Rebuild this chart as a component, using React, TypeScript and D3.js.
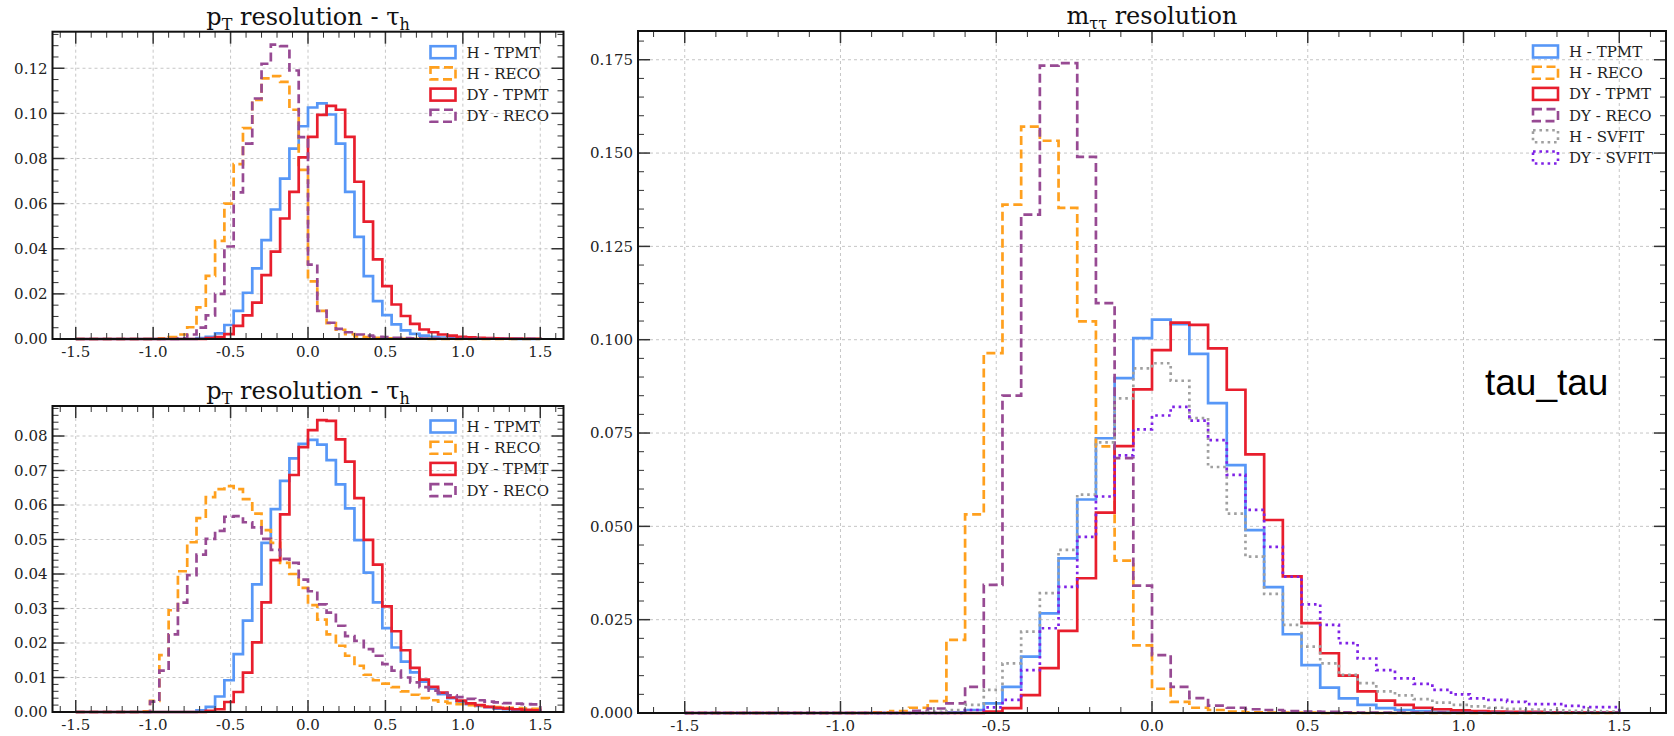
import * as d3 from "d3";

// histogram binning: 50 bins of 0.06 over [-1.5, 1.5]
const BIN_LO = -1.5;
const BIN_W = 0.06;
const binEdges = d3.range(51).map((i) => +(BIN_LO + i * BIN_W).toFixed(2));

const xTicks = [-1.5, -1.0, -0.5, 0.0, 0.5, 1.0, 1.5];
const yTicksTop = [0, 0.02, 0.04, 0.06, 0.08, 0.1, 0.12];
const yTicksBottom = [0, 0.01, 0.02, 0.03, 0.04, 0.05, 0.06, 0.07, 0.08];
const yTicksRight = [0, 0.025, 0.05, 0.075, 0.1, 0.125, 0.15, 0.175];

const seriesNames = ["H - TPMT", "H - RECO", "DY - TPMT", "DY - RECO", "H - SVFIT", "DY - SVFIT"];

// top-left: pT resolution - tau_h
const topHTpmt = [
  0, 0, 0, 0, 0, 0, 0, 0, 0, 0,
  0, 0, 0, 0.0004, 0.001, 0.0025, 0.0062, 0.0125, 0.0205, 0.0313,
  0.0438, 0.0574, 0.0711, 0.0844, 0.0943, 0.1026, 0.1044, 0.0995, 0.0866, 0.0652,
  0.0453, 0.0279, 0.0168, 0.0106, 0.0065, 0.0038, 0.0023, 0.0015, 0.001, 0.0006,
  0.0004, 0.0003, 0.0002, 0.0001, 0.0001, 0.0001, 0.0001, 0, 0, 0,
];
const topHReco = [
  0, 0, 0, 0, 0, 0, 0, 0, 0, 0.0003,
  0.0008, 0.002, 0.0052, 0.014, 0.028, 0.0435, 0.06, 0.0775, 0.0935, 0.106,
  0.1155, 0.1165, 0.114, 0.1016, 0.075, 0.0255, 0.0125, 0.007, 0.0041, 0.0022,
  0.0012, 0.0008, 0.0005, 0.0003, 0.0002, 0.0001, 0.0001, 0.0001, 0, 0,
  0, 0, 0, 0, 0, 0, 0, 0, 0, 0,
];
const topDyTpmt = [
  0, 0, 0, 0, 0, 0, 0, 0, 0, 0,
  0, 0, 0, 0, 0.0004, 0.0008, 0.0022, 0.0058, 0.0105, 0.0161,
  0.0283, 0.0387, 0.0534, 0.0652, 0.0805, 0.0896, 0.0993, 0.1033, 0.1016, 0.0896,
  0.0697, 0.052, 0.0353, 0.0234, 0.0153, 0.0102, 0.0067, 0.0042, 0.003, 0.002,
  0.0015, 0.001, 0.0007, 0.0005, 0.0004, 0.0003, 0.0002, 0.0002, 0.0001, 0.0001,
];
const topDyReco = [
  0, 0, 0, 0, 0, 0, 0, 0, 0, 0,
  0, 0.0003, 0.002, 0.005, 0.0105, 0.02, 0.041, 0.065, 0.0866, 0.1066,
  0.122, 0.1305, 0.1298, 0.119, 0.0895, 0.033, 0.0125, 0.0072, 0.0045, 0.003,
  0.002, 0.0015, 0.001, 0.0008, 0.0005, 0.0004, 0.0003, 0.0002, 0.0002, 0.0001,
  0.0001, 0.0001, 0.0001, 0.0001, 0.0001, 0.0001, 0.0001, 0.0001, 0.0001, 0.0001,
];

// bottom-left: pT resolution - tau_h
const botHTpmt = [
  0, 0, 0, 0, 0, 0, 0, 0, 0, 0,
  0, 0, 0, 0.0005, 0.0015, 0.0045, 0.0092, 0.0168, 0.0265, 0.037,
  0.049, 0.0588, 0.067, 0.0735, 0.0777, 0.0789, 0.0775, 0.073, 0.066, 0.059,
  0.0498, 0.0404, 0.0318, 0.0243, 0.0187, 0.0146, 0.0115, 0.0088, 0.0068, 0.0052,
  0.004, 0.003, 0.0023, 0.0018, 0.0014, 0.001, 0.0008, 0.0006, 0.0005, 0.0004,
];
const botHReco = [
  0, 0, 0, 0, 0, 0, 0, 0.0002, 0.0032, 0.0165,
  0.0295, 0.0408, 0.0492, 0.0562, 0.0623, 0.0646, 0.0655, 0.0646, 0.0617, 0.0575,
  0.0527, 0.049, 0.0432, 0.04, 0.036, 0.031, 0.0268, 0.0225, 0.0192, 0.0163,
  0.0134, 0.0108, 0.0092, 0.0082, 0.0072, 0.006, 0.005, 0.004, 0.0034, 0.003,
  0.0026, 0.0023, 0.002, 0.0018, 0.0016, 0.0014, 0.0012, 0.0011, 0.001, 0.0009,
];
const botDyTpmt = [
  0, 0, 0, 0, 0, 0, 0, 0, 0, 0,
  0, 0, 0, 0, 0.0003, 0.0008, 0.0029, 0.0058, 0.0114, 0.0202,
  0.0318, 0.044, 0.0573, 0.0687, 0.0768, 0.0817, 0.0846, 0.0844, 0.079, 0.0726,
  0.062, 0.0499, 0.0427, 0.0306, 0.0234, 0.0179, 0.0128, 0.0094, 0.0073, 0.0056,
  0.0042, 0.0033, 0.0025, 0.002, 0.0015, 0.0012, 0.001, 0.0008, 0.0006, 0.0005,
];
const botDyReco = [
  0, 0, 0, 0, 0, 0, 0, 0, 0.003, 0.012,
  0.0225, 0.0317, 0.0397, 0.0456, 0.0502, 0.0525, 0.0566, 0.0568, 0.055, 0.0535,
  0.0502, 0.047, 0.0444, 0.0432, 0.0384, 0.035, 0.0312, 0.0288, 0.025, 0.022,
  0.0206, 0.0182, 0.0163, 0.0139, 0.012, 0.01, 0.0086, 0.0072, 0.0062, 0.0055,
  0.0048, 0.0043, 0.0038, 0.0034, 0.003, 0.0028, 0.0026, 0.0024, 0.0023, 0.0022,
];

// right: m_tautau resolution
const mHTpmt = [
  0, 0, 0, 0, 0, 0, 0, 0, 0, 0,
  0, 0, 0, 0, 0.0002, 0.0008, 0.0026, 0.007, 0.0151, 0.0267,
  0.0414, 0.0572, 0.0736, 0.0897, 0.1004, 0.1054, 0.1042, 0.0962, 0.083, 0.0664,
  0.049, 0.0337, 0.0211, 0.0128, 0.0068, 0.0039, 0.0022, 0.0013, 0.0008, 0.0005,
  0.0003, 0.0002, 0.0001, 0.0001, 0.0001, 0.0001, 0.0001, 0.0001, 0.0001, 0.0001,
];
const mHReco = [
  0, 0, 0, 0, 0, 0, 0, 0, 0, 0,
  0.0002, 0.0005, 0.0014, 0.0032, 0.0196, 0.0532, 0.0964, 0.1362, 0.1571, 0.1533,
  0.1353, 0.1049, 0.0714, 0.0408, 0.0181, 0.0065, 0.003, 0.0014, 0.0008, 0.0004,
  0.0002, 0.0001, 0.0001, 0.0001, 0, 0, 0, 0, 0, 0,
  0, 0, 0, 0, 0, 0, 0, 0, 0, 0,
];
const mDyTpmt = [
  0, 0, 0, 0, 0, 0, 0, 0, 0, 0,
  0, 0, 0, 0, 0, 0, 0.0004, 0.0013, 0.0048, 0.012,
  0.022, 0.0361, 0.0537, 0.0715, 0.0867, 0.0972, 0.1046, 0.104, 0.0977, 0.0866,
  0.0693, 0.0517, 0.0366, 0.0241, 0.016, 0.01, 0.0058, 0.0033, 0.0022, 0.0014,
  0.001, 0.0007, 0.0005, 0.0004, 0.0003, 0.0003, 0.0002, 0.0002, 0.0001, 0.0001,
];
const mDyReco = [
  0, 0, 0, 0, 0, 0, 0, 0, 0, 0,
  0, 0, 0.0006, 0.0012, 0.0026, 0.007, 0.0343, 0.085, 0.1335, 0.1734,
  0.1741, 0.149, 0.1098, 0.0683, 0.0341, 0.0155, 0.007, 0.004, 0.002, 0.0014,
  0.001, 0.0008, 0.0005, 0.0004, 0.0003, 0.0002, 0.0001, 0.0001, 0.0001, 0.0001,
  0.0001, 0.0001, 0.0001, 0.0001, 0.0001, 0.0001, 0.0001, 0.0001, 0.0001, 0.0001,
];
const mHSvfit = [
  0, 0, 0, 0, 0, 0, 0, 0, 0, 0,
  0, 0, 0, 0.0003, 0.0008, 0.0022, 0.0062, 0.0133, 0.0218, 0.0321,
  0.0437, 0.0585, 0.0725, 0.0843, 0.0923, 0.0937, 0.089, 0.079, 0.0659, 0.0534,
  0.0419, 0.0319, 0.0236, 0.0178, 0.0133, 0.0102, 0.008, 0.0058, 0.0047, 0.0037,
  0.0028, 0.0022, 0.0018, 0.0014, 0.0011, 0.0009, 0.0007, 0.0006, 0.0005, 0.0004,
];
const mDySvfit = [
  0, 0, 0, 0, 0, 0, 0, 0, 0, 0,
  0, 0, 0, 0, 0, 0.0008, 0.0015, 0.0035, 0.0115, 0.0227,
  0.0338, 0.0472, 0.058, 0.069, 0.076, 0.0797, 0.082, 0.0783, 0.0731, 0.0638,
  0.0544, 0.0445, 0.0365, 0.0291, 0.0236, 0.0187, 0.0146, 0.0115, 0.0093, 0.0078,
  0.0062, 0.005, 0.0039, 0.0035, 0.003, 0.0024, 0.0024, 0.0019, 0.0016, 0.0016,
];

const STYLE = [
  { color: "#5797f7", dash: null },
  { color: "#ffa01e", dash: "9,4.5" },
  { color: "#e81e2d", dash: null },
  { color: "#974a93", dash: "9,4.5" },
  { color: "#a0a0a0", dash: "2.6,3.8" },
  { color: "#7f22e6", dash: "2.6,3.8" },
];

const SERIF = "'DejaVu Serif', serif";
const FS = 15;

function stepPoints(vals: number[]): [number, number][] {
  const pts: [number, number][] = [[binEdges[0], 0]];
  vals.forEach((v, i) => {
    pts.push([binEdges[i], v], [binEdges[i + 1], v]);
  });
  pts.push([binEdges[binEdges.length - 1], 0]);
  return pts;
}

function Panel({ box, yMax, yTicks, yMinor, yFmt, series, title }) {
  const x = d3.scaleLinear().domain([-1.65, 1.65]).range([box.left, box.right]);
  const y = d3.scaleLinear().domain([0, yMax]).range([box.bottom, box.top]);
  const line = d3.line<[number, number]>().x((d) => x(d[0])).y((d) => y(d[1]));

  const xMinor = d3.range(-16, 17).filter((i) => i % 5 !== 0).map((i) => i / 10);
  const nMinor = Math.floor(yMax / yMinor + 1e-6);
  const yMinorVals = d3
    .range(0, nMinor + 1)
    .map((i) => i * yMinor)
    .filter((v) => !yTicks.some((t) => Math.abs(t - v) < 1e-9));

  const MAJ = 12;
  const MIN = 6;
  const legendX = box.right - 133;
  const legendY0 = box.top + 20.5;
  const rowH = 21.2;

  return (
    <g>
      {/* grid */}
      {xTicks.map((t) => (
        <line key={"gx" + t} x1={x(t)} x2={x(t)} y1={box.top} y2={box.bottom}
          stroke="#b8b8b8" strokeWidth={0.8} strokeDasharray="3,3" />
      ))}
      {yTicks.map((t) => (
        <line key={"gy" + t} x1={box.left} x2={box.right} y1={y(t)} y2={y(t)}
          stroke="#b8b8b8" strokeWidth={0.8} strokeDasharray="3,3" />
      ))}

      {/* histograms */}
      {series.map((s, i) => (
        <path key={"s" + i} d={line(stepPoints(s.values)) || ""} fill="none"
          stroke={STYLE[s.style].color} strokeWidth={2.7}
          strokeDasharray={STYLE[s.style].dash || undefined} strokeLinejoin="miter" />
      ))}

      {/* ticks, all four sides, inward */}
      {xTicks.map((t) => (
        <g key={"tx" + t}>
          <line x1={x(t)} x2={x(t)} y1={box.bottom} y2={box.bottom - MAJ} stroke="#333" strokeWidth={1.5} />
          <line x1={x(t)} x2={x(t)} y1={box.top} y2={box.top + MAJ} stroke="#333" strokeWidth={1.5} />
          <text x={x(t)} y={box.bottom + 18} textAnchor="middle" fontFamily={SERIF} fontSize={FS} fill="#222">
            {t.toFixed(1)}
          </text>
        </g>
      ))}
      {xMinor.map((t) => (
        <g key={"mx" + t}>
          <line x1={x(t)} x2={x(t)} y1={box.bottom} y2={box.bottom - MIN} stroke="#333" strokeWidth={1} />
          <line x1={x(t)} x2={x(t)} y1={box.top} y2={box.top + MIN} stroke="#333" strokeWidth={1} />
        </g>
      ))}
      {yTicks.map((t) => (
        <g key={"ty" + t}>
          <line x1={box.left} x2={box.left + MAJ} y1={y(t)} y2={y(t)} stroke="#333" strokeWidth={1.5} />
          <line x1={box.right} x2={box.right - MAJ} y1={y(t)} y2={y(t)} stroke="#333" strokeWidth={1.5} />
          <text x={box.left - 5} y={y(t)} dy="0.35em" textAnchor="end" fontFamily={SERIF} fontSize={FS} fill="#222">
            {d3.format(yFmt)(t)}
          </text>
        </g>
      ))}
      {yMinorVals.map((t) => (
        <g key={"my" + t}>
          <line x1={box.left} x2={box.left + MIN} y1={y(t)} y2={y(t)} stroke="#333" strokeWidth={1} />
          <line x1={box.right} x2={box.right - MIN} y1={y(t)} y2={y(t)} stroke="#333" strokeWidth={1} />
        </g>
      ))}

      {/* frame */}
      <rect x={box.left} y={box.top} width={box.right - box.left} height={box.bottom - box.top}
        fill="none" stroke="#111" strokeWidth={2} />

      {/* legend */}
      {series.map((s, i) => {
        const cy = legendY0 + i * rowH;
        return (
          <g key={"lg" + i}>
            <rect x={legendX} y={cy - 6} width={25} height={12} fill="none"
              stroke={STYLE[s.style].color} strokeWidth={2.6}
              strokeDasharray={STYLE[s.style].dash || undefined} />
            <text x={legendX + 36} y={cy} dy="0.36em" fontFamily={SERIF} fontSize={FS} fill="#222">
              {seriesNames[s.style]}
            </text>
          </g>
        );
      })}

      {/* title */}
      <text x={(box.left + box.right) / 2} y={box.top - 7} textAnchor="middle" fontFamily={SERIF} fontSize={24} fill="#111">
        {title}
      </text>
    </g>
  );
}

const ptTitle = [
  <tspan key="a">p</tspan>,
  <tspan key="b" dy={5} fontSize={16}>T</tspan>,
  <tspan key="c" dy={-5}> resolution - τ</tspan>,
  <tspan key="d" dy={5} fontSize={16}>h</tspan>,
];
const mTitle = [
  <tspan key="a">m</tspan>,
  <tspan key="b" dy={5} fontSize={16}>ττ</tspan>,
  <tspan key="c" dy={-5}> resolution</tspan>,
];

export default function App() {
  const topSeries = [
    { values: topHTpmt, style: 0 },
    { values: topHReco, style: 1 },
    { values: topDyTpmt, style: 2 },
    { values: topDyReco, style: 3 },
  ];
  const botSeries = [
    { values: botHTpmt, style: 0 },
    { values: botHReco, style: 1 },
    { values: botDyTpmt, style: 2 },
    { values: botDyReco, style: 3 },
  ];
  const mSeries = [
    { values: mHTpmt, style: 0 },
    { values: mHReco, style: 1 },
    { values: mDyTpmt, style: 2 },
    { values: mDyReco, style: 3 },
    { values: mHSvfit, style: 4 },
    { values: mDySvfit, style: 5 },
  ];

  return (
    <svg width={1674} height={736} style={{ position: "absolute", left: 0, top: 0, background: "#fff" }}>
      <rect width={1674} height={736} fill="#fff" />
      <Panel box={{ left: 52.5, right: 563.5, top: 31.7, bottom: 339 }} yMax={0.1362}
        yTicks={yTicksTop} yMinor={0.005} yFmt=".2f" series={topSeries} title={ptTitle} />
      <Panel box={{ left: 52.5, right: 563.5, top: 406, bottom: 712 }} yMax={0.0887}
        yTicks={yTicksBottom} yMinor={0.002} yFmt=".2f" series={botSeries} title={ptTitle} />
      <Panel box={{ left: 638, right: 1666, top: 31, bottom: 713 }} yMax={0.1827}
        yTicks={yTicksRight} yMinor={0.005} yFmt=".3f" series={mSeries} title={mTitle} />
      <text x={1485} y={395} fontFamily="'Liberation Sans', Arial, sans-serif" fontSize={37} fill="#000">
        tau_tau
      </text>
    </svg>
  );
}
